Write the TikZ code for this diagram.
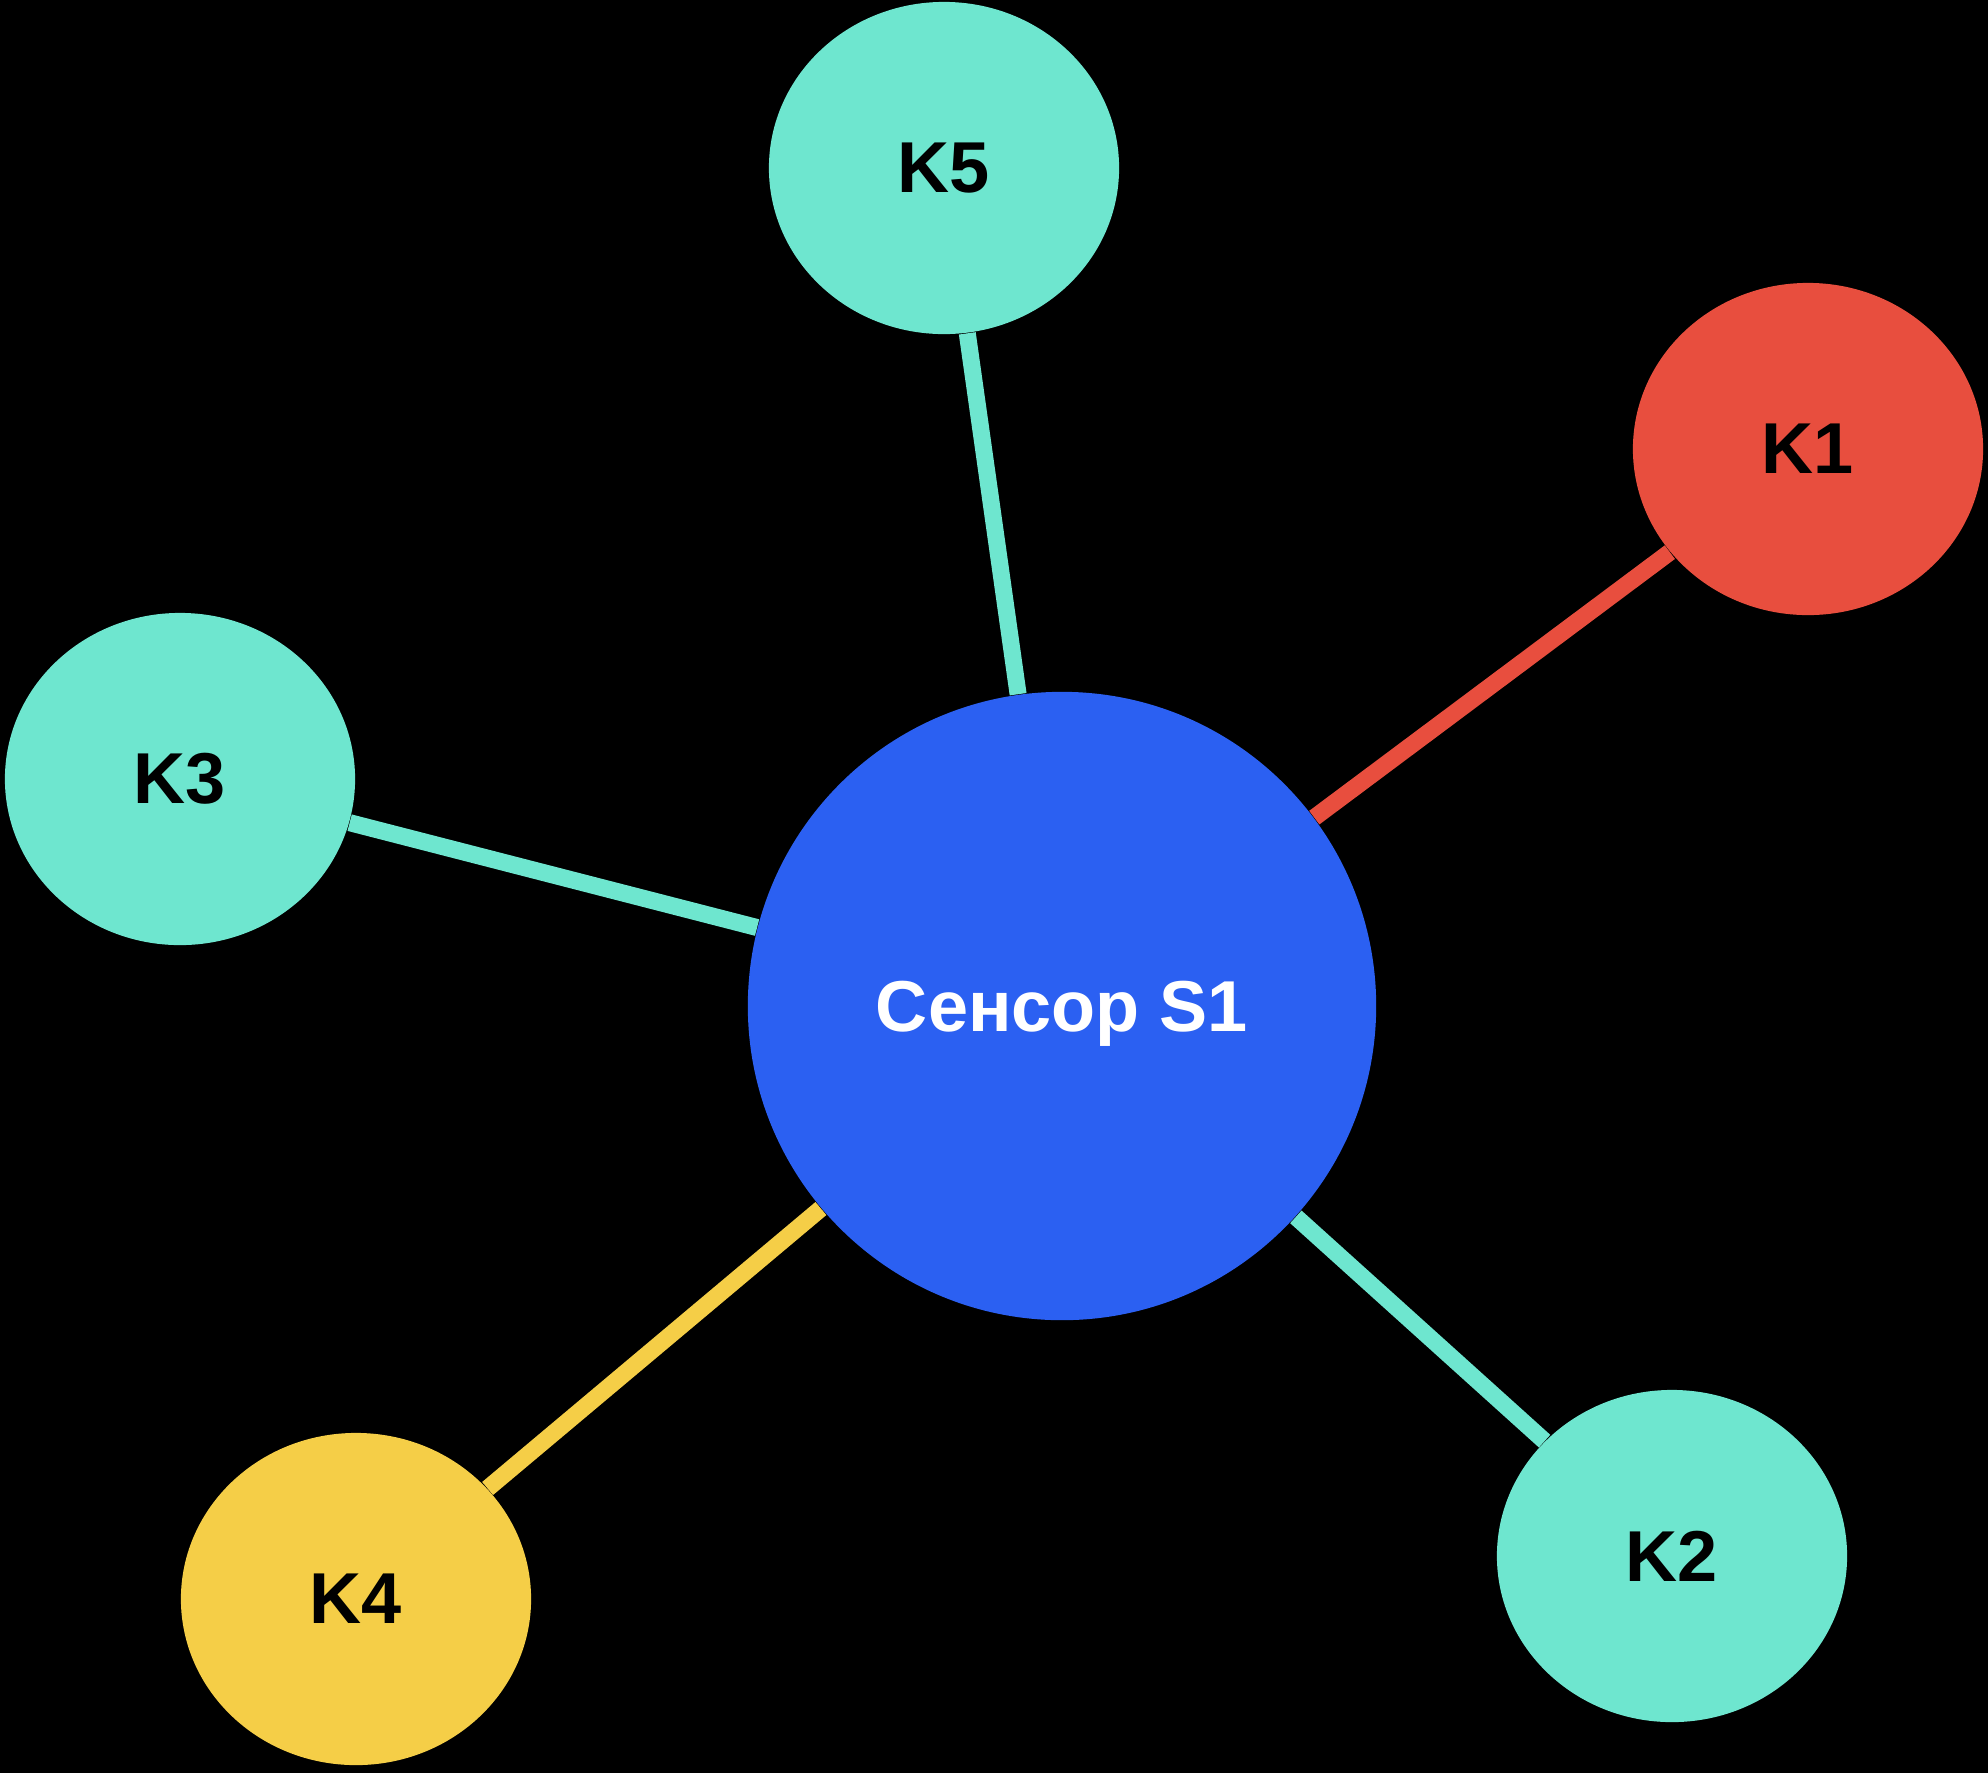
\documentclass[tikz,border=0pt]{standalone}
\usepackage{fontspec}
\usepackage{tikz}
\usetikzlibrary{positioning,shapes}
\newfontfamily\knfont{Liberation Sans}
\definecolor{Teal}{HTML}{6EE6CF}
\definecolor{Red}{HTML}{E84E3E}
\definecolor{Yellow}{HTML}{F5CE47}
\definecolor{Blue}{HTML}{2B60F2}
\tikzstyle{kn}=[%
      ellipse, fill=Teal, text=black, inner sep=0pt,
      minimum width=3.5cm, minimum height=3.32cm,
      font=\knfont\bfseries\fontsize{20.5}{24}\selectfont
]
\tikzstyle{sn}=[%
      circle, fill=Blue, text=white, inner sep=0pt, minimum size=6.28cm,
      text depth=0pt, font=\knfont\bfseries\fontsize{20.5}{24}\selectfont
]
\tikzstyle{ln}=[%
      line width=0.17cm, Teal
]
\begin{document}
\begin{tikzpicture}[x=0.01cm, y=-0.01cm]
    \useasboundingbox (0,0) rectangle (1988,1772);
    \fill[black] (-5,-5) rectangle (1993,1777);

    \node[sn]              (s1) at (1062,1006) {Сенсор S1};
    \node[kn, fill=Red]    (k1) at (1808,449)  {K1};
    \node[kn]              (k2) at (1672,1556) {K2};
    \node[kn]              (k3) at (180,779)   {K3};
    \node[kn, fill=Yellow] (k4) at (356,1599)  {K4};
    \node[kn]              (k5) at (944,168)   {K5};

    \path (s1) edge[ln, Red] (k1)
          (s1) edge[ln] (k2)
          (s1) edge[ln] (k3)
          (s1) edge[ln, Yellow] (k4)
          (s1) edge[ln] (k5)
    ;

\end{tikzpicture}
\end{document}
